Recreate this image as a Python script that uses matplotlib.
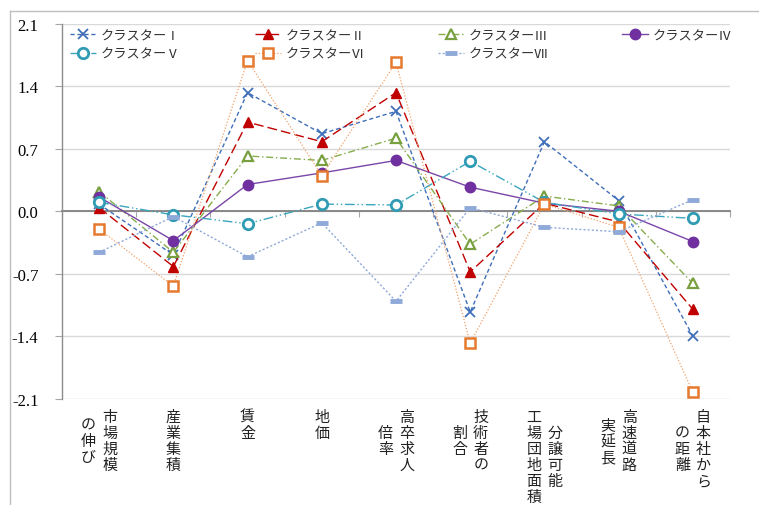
import matplotlib
matplotlib.use("Agg")
import matplotlib.pyplot as plt
from matplotlib.lines import Line2D

# ---- data -------------------------------------------------------------
label_columns = [
    ["市場規模", "の伸び"],
    ["産業集積"],
    ["賃金"],
    ["地価"],
    ["高卒求人", "倍率"],
    ["技術者の", "割合"],
    ["分譲可能", "工場団地面積"],
    ["高速道路", "実延長"],
    ["自本社から", "の距離"],
]
series_names = ["クラスターⅠ", "クラスターⅡ", "クラスターⅢ", "クラスターⅣ",
                "クラスターⅤ", "クラスターⅥ", "クラスターⅦ"]
cluster1 = [0.08, -0.49, 1.33, 0.87, 1.12, -1.13, 0.78, 0.12, -1.40]
cluster2 = [0.04, -0.62, 1.00, 0.78, 1.33, -0.68, 0.09, -0.12, -1.10]
cluster3 = [0.22, -0.46, 0.62, 0.57, 0.82, -0.37, 0.17, 0.06, -0.81]
cluster4 = [0.16, -0.33, 0.30, 0.43, 0.57, 0.27, 0.09, 0.00, -0.34]
cluster5 = [0.10, -0.04, -0.14, 0.08, 0.07, 0.56, 0.10, -0.03, -0.08]
cluster6 = [-0.20, -0.84, 1.69, 0.40, 1.67, -1.48, 0.08, -0.18, -2.03]
cluster7 = [-0.46, -0.06, -0.51, -0.13, -1.01, 0.04, -0.18, -0.23, 0.13]
y_ticks = [-2.1, -1.4, -0.7, 0.0, 0.7, 1.4, 2.1]

# ---- styles -----------------------------------------------------------
styles = [
    dict(color="#3f6fb8", ls=(0, (3, 2)), lw=1.0, marker="x", ms=7, mew=1.3,
         mfc="none", mec="#3f6fb8"),
    dict(color="#c00000", ls=(0, (7, 3)), lw=1.0, marker="^", ms=7.5, mew=1.0,
         mfc="#c00000", mec="#c00000"),
    dict(color="#86ac4c", ls=(0, (5, 2, 1, 2)), lw=1.0, marker="^", ms=7.5, mew=1.6,
         mfc="white", mec="#79a040"),
    dict(color="#7a46a8", ls="-", lw=1.0, marker="o", ms=7.5, mew=1.0,
         mfc="#7030a0", mec="#7030a0"),
    dict(color="#3aa6bd", ls=(0, (7, 2, 1, 2, 1, 2)), lw=1.0, marker="o", ms=7.5,
         mew=2.0, mfc="white", mec="#2f9bb4"),
    dict(color="#f2a26a", ls=(0, (1, 1.5)), lw=0.9, marker="s", ms=6.5, mew=1.8,
         mfc="white", mec="#e57a2e"),
    dict(color="#8fa9d8", ls=(0, (1.5, 1.5)), lw=1.0, marker="_", ms=8, mew=3.5,
         mfc="#8fa9d8", mec="#8fa9d8"),
]
series = [cluster1, cluster2, cluster3, cluster4, cluster5, cluster6, cluster7]

W, H = 759, 506
fig = plt.figure(figsize=(W / 100, H / 100), dpi=100)
fig.patch.set_facecolor("white")

ax_left, ax_right, ax_top, ax_bottom = 62, 730, 25, 399.5
ax = fig.add_axes([ax_left / W, 1 - ax_bottom / H,
                   (ax_right - ax_left) / W, (ax_bottom - ax_top) / H])

n = len(label_columns)
xs = list(range(n))
handles = []
for vals, st, name in zip(series, styles, series_names):
    (h,) = ax.plot(xs, vals, label=name, zorder=3, **st)
    handles.append(h)

ax.set_xlim(-0.5, n - 0.5)
ax.set_ylim(-2.1, 2.1)
ax.set_yticks(y_ticks)
ax.set_yticklabels([f"{v:.1f}" for v in y_ticks],
                   fontfamily="Liberation Serif", fontsize=12)
ax.yaxis.grid(True, color="#d9d9d9", lw=1.0)
ax.set_axisbelow(True)
ax.tick_params(axis="y", length=5, width=0.8, color="#a6a6a6", pad=12)

# category axis crossing at zero, tick marks between categories
ax.spines["bottom"].set_position(("data", 0))
ax.spines["bottom"].set_color("#808080")
ax.spines["bottom"].set_linewidth(1.3)
ax.spines["bottom"].set_zorder(2)
ax.set_xticks([i - 0.5 for i in range(n + 1)])
ax.set_xticklabels([])
ax.tick_params(axis="x", length=4, width=0.8, color="#a6a6a6", direction="out")
ax.spines["left"].set_color("#8c8c8c")
ax.spines["left"].set_linewidth(1.0)
for s in ("top", "right"):
    ax.spines[s].set_visible(False)

# vertical category labels drawn character by character
cjk = ["Noto Sans CJK JP", "DejaVu Sans"]
pitch = 16.0
first_center = 418.0
col_gap = 21.0
for i, cols in enumerate(label_columns):
    xc = ax.transData.transform((i, 0))[0]
    longest = max(len(c) for c in cols)
    k = len(cols)
    for j, col in enumerate(cols):
        # first column is the rightmost one
        xo = xc + ((k - 1) / 2 - j) * col_gap
        y0 = first_center + (longest - len(col)) * pitch / 2
        for m, ch in enumerate(col):
            yp = y0 + m * pitch
            fig.text(xo / W, 1 - yp / H, ch, ha="center", va="center",
                     fontsize=10.8, family=cjk, color="#222222")

# legend: four columns placed at fixed positions
col_x = [70, 255, 438, 622]
col_items = [[0, 4], [1, 5], [2, 6], [3]]
for cx, items in zip(col_x, col_items):
    fig.legend([handles[t] for t in items], [series_names[t] for t in items],
               loc="upper left", bbox_to_anchor=(cx / W, 1 - 30 / H),
               frameon=False, prop={"family": cjk, "size": 9.5},
               handlelength=2.0, handletextpad=0.35, borderpad=0,
               borderaxespad=0, labelspacing=0.42, labelcolor="#333333")

# outer chart border
fig.add_artist(Line2D([10 / W, 1], [1 - 12 / H, 1 - 12 / H],
                      transform=fig.transFigure, color="#bfbfbf", lw=1.0))
fig.add_artist(Line2D([10 / W, 10 / W], [0, 1 - 12 / H],
                      transform=fig.transFigure, color="#bfbfbf", lw=1.0))

fig.savefig("out.png", dpi=100)
